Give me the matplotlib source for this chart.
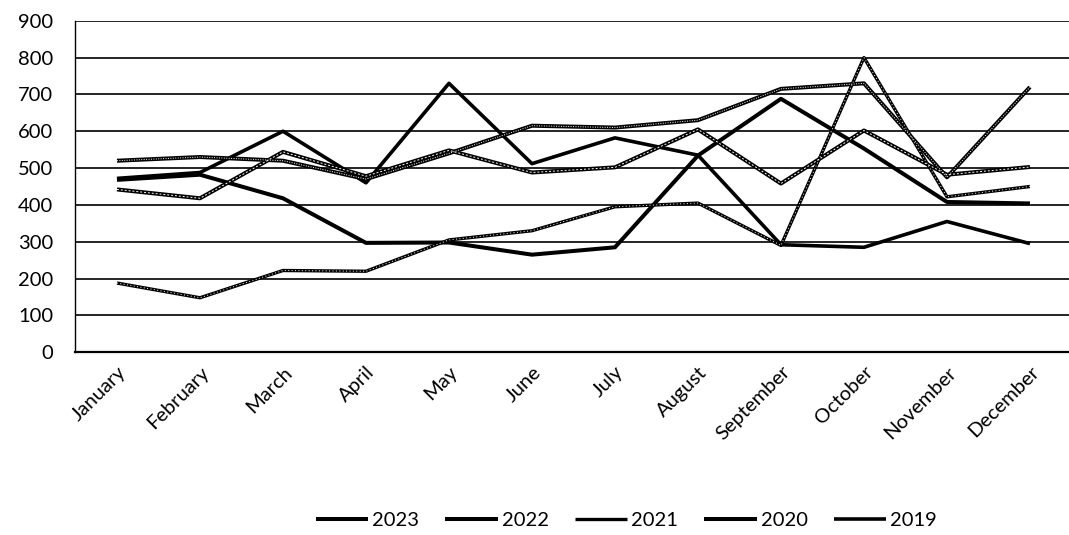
import matplotlib
matplotlib.use("Agg")
import matplotlib.pyplot as plt
from matplotlib.lines import Line2D

plt.rcParams['font.family'] = ['Lato', 'DejaVu Sans']

months = ["January", "February", "March", "April", "May", "June", "July",
          "August", "September", "October", "November", "December"]

sales_2023 = [520, 530, 520, 470, 540, 615, 610, 630, 715, 730, 475, 720]
sales_2022 = [442, 418, 544, 478, 548, 488, 502, 605, 458, 602, 482, 503]
sales_2021 = [188, 148, 222, 220, 305, 330, 395, 405, 290, 800, 422, 450]
sales_2020 = [468, 482, 418, 297, 298, 265, 285, 534, 688, 553, 408, 404]
sales_2019 = [472, 488, 600, 460, 730, 512, 582, 535, 292, 285, 355, 295]

years = ["2023", "2022", "2021", "2020", "2019"]
series = [sales_2023, sales_2022, sales_2021, sales_2020, sales_2019]
# (outer width, inner white core style or None)
styles = [(2.9, (0, (1, 1.5))), (2.9, (0, (2, 2))), (2.4, (0, (1, 2.5))),
          (2.9, None), (2.6, None)]

FS = 14.5

fig = plt.figure(figsize=(10.69, 5.35), dpi=100)
ax = fig.add_axes([0.0706, 0.3415, 0.9317, 0.6198])

x = list(range(len(months)))
handles = []
for vals, (lw, core) in zip(series, styles):
    ax.plot(x, vals, color="black", lw=lw, solid_capstyle="butt", zorder=3)
    if core is not None:
        ax.plot(x, vals, color="white", lw=0.7, linestyle=core, zorder=4)
    handles.append(Line2D([], [], color="black", lw=lw, solid_capstyle="butt"))

ax.set_xlim(-0.5, 11.5)
ax.set_ylim(0, 900)
ax.set_yticks(range(0, 901, 100))
ax.set_xticks(x)
ax.set_xticklabels(months, rotation=45, ha="right", rotation_mode="anchor", fontsize=FS)
ax.tick_params(axis="both", length=0, colors="black", labelsize=FS)
ax.tick_params(axis="y", pad=16)
ax.tick_params(axis="x", pad=8)

ax.grid(axis="y", color="black", lw=1.2, zorder=1)
ax.set_axisbelow(True)
for side in ["top", "right"]:
    ax.spines[side].set_visible(False)
ax.spines["left"].set_linewidth(1.0)
ax.spines["bottom"].set_linewidth(1.6)

fig.legend(handles, years, loc="center", bbox_to_anchor=(0.586, 0.028),
           ncol=5, frameon=False, fontsize=FS, handlelength=2.6,
           handletextpad=0.2, columnspacing=1.3)

fig.savefig("out.png", dpi=100)
